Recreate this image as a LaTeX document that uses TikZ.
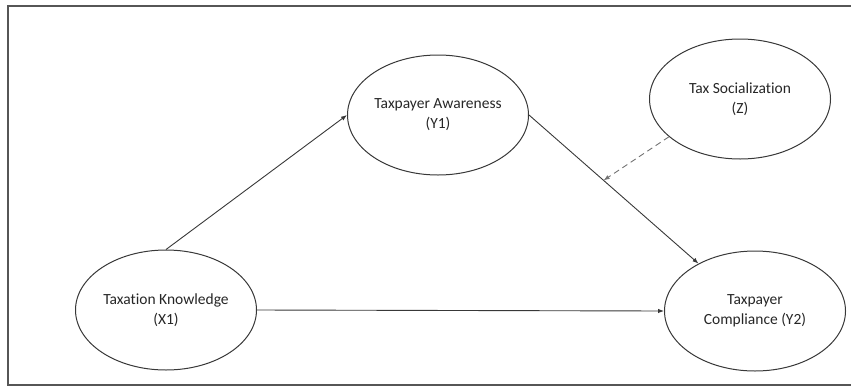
\documentclass[tikz,border=0pt]{standalone}
\usepackage{fontspec}
\setmainfont[Ligatures=NoCommon]{Carlito}
\usetikzlibrary{shapes.geometric,arrows.meta,calc}

\definecolor{ink}{HTML}{383838}
\definecolor{txt}{HTML}{262626}
\tikzset{
    var/.style={draw=ink, line width=1pt, ellipse, minimum width=181pt, minimum height=120pt,
        inner sep=0pt, align=center, text=txt, font=\fontsize{15.5}{20}\selectfont},
    link/.style={draw=ink, line width=0.9pt, -{Latex[length=6pt,width=4.5pt]}},
    modlink/.style={link, draw=ink!70, dash pattern=on 6pt off 4pt}
}

\begin{document}
\begin{tikzpicture}[x=1pt,y=-1pt]
    \useasboundingbox (0,0) rectangle (851,386);
    % frame
    \draw[ink!85, line width=1.6pt] (860,6) -- (8,6) -- (8,385) -- (860,385);

    \node[var] (x1) at (166,310) {Taxation Knowledge\\(X1)};
    \node[var] (y1) at (438,115) {Taxpayer Awareness\\(Y1)};
    \node[var] (z)  at (740,99)  {Tax Socialization\\(Z)};
    \node[var] (y2) at (755,311) {Taxpayer\\Compliance (Y2)};

    \draw[link] (x1.north) -- (y1.west);
    \draw[link] (x1.east) -- (y2.west);
    \draw[link] (y1.east) -- (y2.140);
    \coordinate (mod) at ($(y1.east)!0.44!(y2.140)$);
    \draw[modlink] (z.208) -- (mod);
\end{tikzpicture}
\end{document}
